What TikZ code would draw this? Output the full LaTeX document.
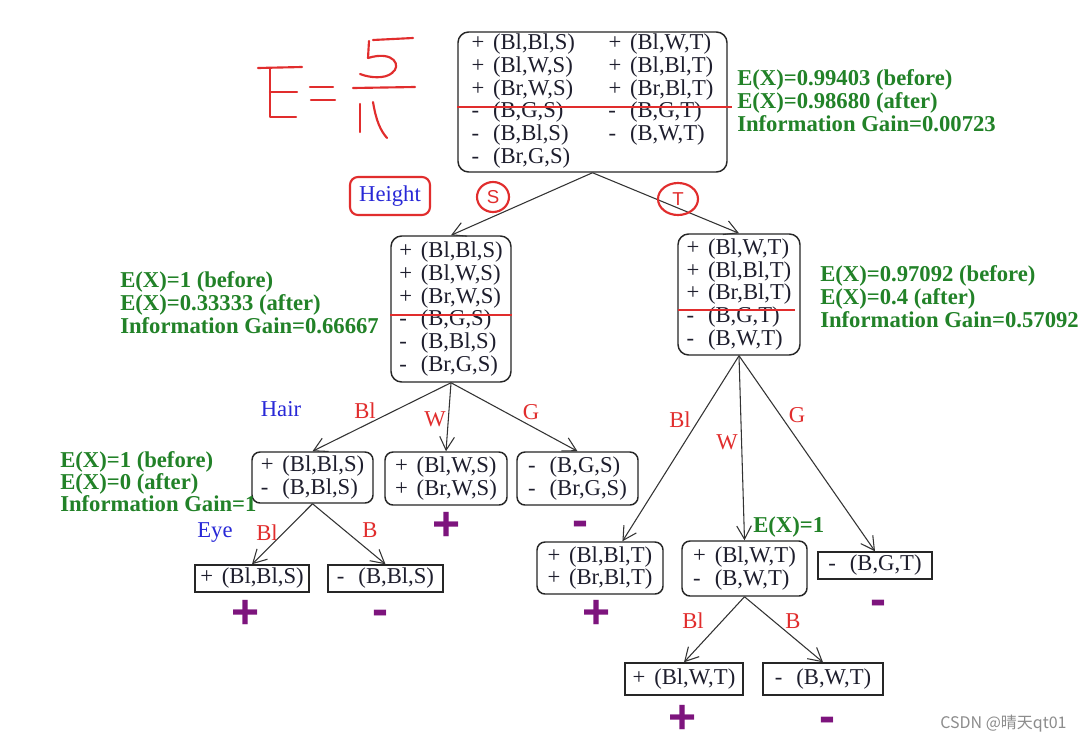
\documentclass[tikz,border=0pt]{standalone}
\usepackage{fontspec}
\setmainfont{Liberation Serif}
\newfontfamily\cjkfont{Noto Sans CJK SC}
\newfontfamily\sansfont{Liberation Sans}
\usetikzlibrary{arrows.meta,calc}
\definecolor{boxtxt}{RGB}{30,30,45}
\definecolor{gaincol}{RGB}{34,130,40}
\definecolor{redcol}{RGB}{225,45,45}
\definecolor{bluecol}{RGB}{40,40,215}
\definecolor{purcol}{RGB}{125,20,125}
\newcommand\sgn[1]{\makebox[0.95em][l]{#1}}
\begin{document}
\begin{tikzpicture}[x=0.75pt,y=-0.75pt,
  rbox/.style={draw=black!85, line width=1.1pt, rounded corners=8pt, inner sep=0pt, align=left, font=\fontsize{17}{17}\selectfont, text=boxtxt},
  sbox/.style={draw=black!85, line width=1.1pt, inner sep=0pt, align=left, font=\fontsize{17}{17}\selectfont, text=boxtxt},
  conn/.style={draw=black!80, line width=0.8pt, -{Straight Barb[length=10pt,width=11pt]}},
  gain/.style={text=gaincol, font=\fontsize{17}{17.2}\selectfont\bfseries, align=left, anchor=west, inner sep=0pt},
  elab/.style={text=redcol, font=\fontsize{17}{17}\selectfont, inner sep=0pt},
  alab/.style={text=bluecol, font=\fontsize{17}{17}\selectfont, inner sep=0pt},
  pm/.style={text=purcol, font=\sansfont\bfseries\fontsize{36}{36}\selectfont, inner sep=0pt, anchor=base},
  hand/.style={draw=redcol, line width=1.6pt, line cap=round, line join=round},
  redline/.style={draw=redcol, line width=1.5pt}]
\useasboundingbox (0,0) rectangle (1080,743);
\fill[white] (0,0) rectangle (1080,743);

% hand-written E = 5/11
\draw[hand] (258,68) -- (302,67);
\draw[hand] (270,68) -- (270,117) -- (296,117);
\draw[hand] (270,92) -- (297,92);
\draw[hand] (310,87) -- (333,87);
\draw[hand] (311,100) -- (335,100);
\draw[hand] (373,40) -- (413,38);
\draw[hand] (369,41) -- (368,58) .. controls (394,50) and (402,66) .. (392,73) .. controls (385,79) and (370,78) .. (360,74);
\draw[hand] (353,88) -- (415,87);
\draw[hand] (360,104) -- (360,132);
\draw[hand] (373,102) .. controls (376,120) and (380,130) .. (387,138);

% nodes
\node[rbox, minimum width=201.75pt, minimum height=105pt] (root) at (592.5,102) {\raisebox{-2.5pt}{%
\begin{tabular}{@{}p{102.75pt}@{}l@{}}
\sgn{+}(Bl,Bl,S) & \sgn{+}(Bl,W,T)\\
\sgn{+}(Bl,W,S) & \sgn{+}(Bl,Bl,T)\\
\sgn{+}(Br,W,S) & \sgn{+}(Br,Bl,T)\\
\sgn{-}(B,G,S) & \sgn{-}(B,G,T)\\
\sgn{-}(B,Bl,S) & \sgn{-}(B,W,T)\\
\sgn{-}(Br,G,S) & \\
\end{tabular}}};
\node[rbox, minimum width=90pt, minimum height=109.5pt] (hs) at (451,309) {\sgn{+}(Bl,Bl,S)\\\sgn{+}(Bl,W,S)\\\sgn{+}(Br,W,S)\\\sgn{-}(B,G,S)\\\sgn{-}(B,Bl,S)\\\sgn{-}(Br,G,S)};
\node[rbox, minimum width=91.5pt, minimum height=90.75pt] (ht) at (739,294.5) {\sgn{+}(Bl,W,T)\\\sgn{+}(Bl,Bl,T)\\\sgn{+}(Br,Bl,T)\\\sgn{-}(B,G,T)\\\sgn{-}(B,W,T)};
\node[rbox, rounded corners=6pt, minimum width=90.75pt, minimum height=38.25pt] (ha) at (312.5,477.5) {\sgn{+}(Bl,Bl,S)\\\sgn{-}(B,Bl,S)};
\node[rbox, rounded corners=6pt, minimum width=91.5pt, minimum height=39.75pt] (hb) at (446,478.5) {\sgn{+}(Bl,W,S)\\\sgn{+}(Br,W,S)};
\node[rbox, rounded corners=6pt, minimum width=90.75pt, minimum height=39.75pt] (hc) at (577.5,478.5) {\sgn{-}(B,G,S)\\\sgn{-}(Br,G,S)};
\node[sbox, minimum width=85.5pt, minimum height=20.25pt] (l1) at (252,578.5) {\sgn{+}(Bl,Bl,S)};
\node[sbox, minimum width=86.25pt, minimum height=20.25pt] (l2) at (385.5,578.5) {\sgn{-}(B,Bl,S)};
\node[rbox, rounded corners=6pt, minimum width=94.5pt, minimum height=39pt] (td) at (600,568) {\sgn{+}(Bl,Bl,T)\\\sgn{+}(Br,Bl,T)};
\node[rbox, rounded corners=6pt, minimum width=93.75pt, minimum height=41.25pt] (te) at (744.5,568.5) {\sgn{+}(Bl,W,T)\\\sgn{-}(B,W,T)};
\node[sbox, minimum width=85.5pt, minimum height=20.25pt] (tf) at (875,565.5) {\sgn{-}(B,G,T)};
\node[sbox, minimum width=88.5pt, minimum height=24pt] (l3) at (684,679) {\sgn{+}(Bl,W,T)};
\node[sbox, minimum width=90pt, minimum height=24pt] (l4) at (823,679) {\sgn{-}(B,W,T)};

% red split lines
\draw[redline] (457,107) -- (732,107);
\draw[redline] (390,315) -- (512,315);
\draw[redline] (678,310) -- (795,310);

% connectors
\draw[conn] (root.south) -- (hs.north);
\draw[conn] (root.south) -- (ht.north);
\draw[conn] (hs.south) -- (ha.north);
\draw[conn] (hs.south) -- (hb.north);
\draw[conn] (hs.south) -- (hc.north);
\draw[conn] (ha.south) -- (l1.north);
\draw[conn] (ha.south) -- (l2.north);
\draw[conn] (ht.south) -- (td.50);
\draw[conn] (ht.south) -- (te.north);
\draw[conn] (ht.south) -- (tf.north);
\draw[conn] (te.south) -- (l3.north);
\draw[conn] (te.south) -- (l4.north);

% attribute labels
\node[alab, draw=redcol, line width=1.6pt, rounded corners=6pt, minimum width=60pt, minimum height=28.5pt] (height) at (390,196) {Height};
\node[alab] (hair) at (281,409) {Hair};
\node[alab] (eye) at (215,533) {Eye};

% edge labels
\node[text=redcol, font=\sansfont\fontsize{14}{14}\selectfont, inner sep=0pt] (ls) at (493,197) {S};
\draw[hand] (ls) ellipse [x radius=16, y radius=15];
\node[text=redcol, font=\sansfont\fontsize{14}{14}\selectfont, inner sep=0pt] (lt) at (678,199) {T};
\draw[hand] (lt) ellipse [x radius=20, y radius=16];
\node[elab] (e1) at (365,411) {Bl};
\node[elab] (e2) at (435,419) {W};
\node[elab] (e3) at (531,412) {G};
\node[elab] (e4) at (267,533) {Bl};
\node[elab] (e5) at (370,530) {B};
\node[elab] (e6) at (680,420) {Bl};
\node[elab] (e7) at (727,442) {W};
\node[elab] (e8) at (797,415) {G};
\node[elab] (e9) at (693,621) {Bl};
\node[elab] (e10) at (793,621) {B};

% gains
\node[gain] (g1) at (737,101) {E(X)=0.99403 (before)\\E(X)=0.98680 (after)\\Information Gain=0.00723};
\node[gain] (g2) at (120,302.5) {E(X)=1 (before)\\E(X)=0.33333 (after)\\Information Gain=0.66667};
\node[gain] (g3) at (820,297) {E(X)=0.97092 (before)\\E(X)=0.4 (after)\\Information Gain=0.57092};
\node[gain, font=\fontsize{17}{16.5}\selectfont\bfseries] (g4) at (60,481.5) {E(X)=1 (before)\\E(X)=0 (after)\\Information Gain=1};
\node[gain] (g5) at (753,527) {E(X)=1};

% class signs
\node[pm] (p1) at (447,540) {+};
\node[pm] (p2) at (580,536) {-};
\node[pm] (p3) at (246,628) {+};
\node[pm] (p4) at (380,625) {-};
\node[pm] (p5) at (597,628) {+};
\node[pm] (p6) at (878,615) {-};
\node[pm] (p7) at (683,733) {+};
\node[pm] (p8) at (827,732) {-};

% watermark
\node[text=black!45, font=\cjkfont\fontsize{12}{12}\selectfont, anchor=west, inner sep=0pt] (wm) at (940,724) {CSDN @晴天qt01};
\end{tikzpicture}
\end{document}
